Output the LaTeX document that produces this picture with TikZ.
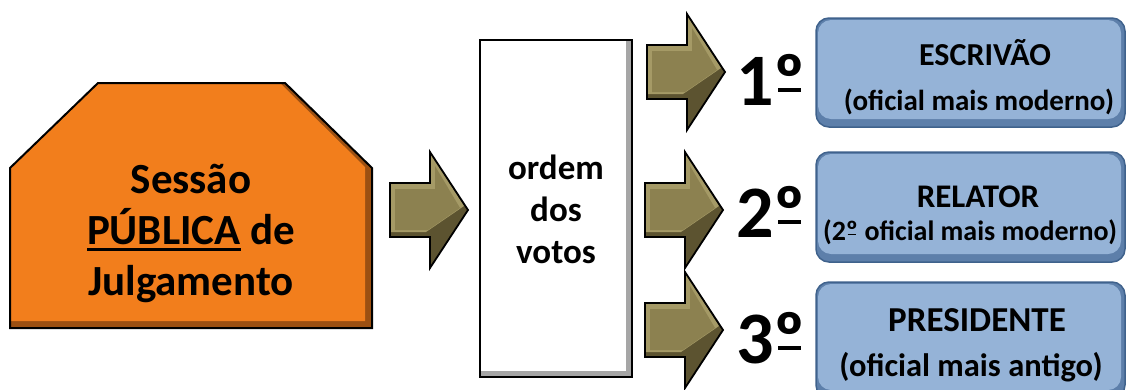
\documentclass[tikz,border=0pt]{standalone}
\usepackage{fontspec}
\setmainfont{Carlito}
\definecolor{orangemain}{HTML}{F27E1C}
\definecolor{orangedark}{HTML}{9C5012}
\definecolor{olivemain}{HTML}{8C8150}
\definecolor{olivelight}{HTML}{A59A66}
\definecolor{olivedark}{HTML}{5C5330}
\definecolor{bluemain}{HTML}{95B3D7}
\definecolor{bluedark}{HTML}{5D7FAA}
\definecolor{blueedge}{HTML}{3F628C}
\newcommand\myul[1]{\setbox0\hbox{#1}\rlap{\rule[-7pt]{\wd0}{3pt}}\box0\relax}
\newcommand\ordu{\setbox0\hbox{º}\rlap{\hbox to \wd0{\hss\rule[0.17em]{0.72\wd0}{0.06em}\hss}}\box0\relax}
\tikzset{
  fs/.style={font=\bfseries\fontsize{#1}{#1}\selectfont},
  blockarrow/.pic={
    \fill[olivedark] (-78,-27) -- (-38,-27) -- (-38,-58) -- (0,0) -- (-38,58) -- (-38,27) -- (-78,27) -- cycle;
    \fill[olivelight] (-78,-27) -- (-38,-27) -- (-38,-58) -- (-4,-4) -- (-42,22) -- (-78,22) -- cycle;
    \fill[olivemain] (-73,-21) -- (-33,-21) -- (-33,-44) -- (-8,-2) -- (-40,20) -- (-73,20) -- cycle;
    \draw[line width=1.8pt, line join=miter] (-78,-27) -- (-38,-27) -- (-38,-58) -- (0,0) -- (-38,58) -- (-38,27) -- (-78,27) -- cycle;
  },
  bluebox/.style={rounded corners=13pt},
}
\begin{document}
\begin{tikzpicture}[x=1pt,y=-1pt]
\useasboundingbox (0,0) rectangle (1127,389);
\fill[white] (0,0) rectangle (1127,389);
% orange pentagon
\fill[orangedark] (10,168) -- (98,83) -- (285,83) -- (372,168) -- (372,328) -- (10,328) -- cycle;
\fill[orangemain] (10,168) -- (98,83) -- (280,83) -- (365,167) -- (365,321) -- (10,321) -- cycle;
\draw[line width=2pt, line join=miter] (10,168) -- (98,83) -- (285,83) -- (372,168) -- (372,328) -- (10,328) -- cycle;
\node[fs=43, align=center, inner sep=0pt] (sessao) at (191,233) {Sessão\\[8pt]\myul{PÚBLICA} de\\[8pt]Julgamento};
% arrow into box
\pic at (468,210) {blockarrow};
% white box
\fill[gray!70] (480,40) rectangle (632,377);
\fill[white] (480,40) rectangle (626,371);
\draw[line width=2pt] (480,40) rectangle (632,377);
\node[fs=35, align=center, inner sep=0pt] (ordem) at (556,209) {ordem\\[7pt]dos\\[7pt]votos};
% arrows out
\pic at (725,72) {blockarrow};
\pic at (723,210) {blockarrow};
\pic at (723,330) {blockarrow};
% numbers
\node[fs=74, anchor=base] (n1) at (771,105) {1\ordu};
\node[fs=74, anchor=base] (n2) at (771,237) {2\ordu};
\node[fs=74, anchor=base] (n3) at (771,363) {3\ordu};
% blue boxes
\foreach \t/\b in {18/127,152/262,282/398}{
  \fill[bluedark, bluebox] (816,\t) rectangle (1125,\b);
  \fill[bluemain, bluebox] (818,\t+2) rectangle (1121,\b-8);
  \draw[blueedge, line width=1.5pt, bluebox] (816,\t) rectangle (1125,\b);
}
\node[fs=32, anchor=base] (t1) at (985,65) {ESCRIVÃO};
\node[fs=29, anchor=base] (s1) at (979,110) {(oficial mais moderno)};
\node[fs=33, anchor=base] (t2) at (978,207) {RELATOR};
\node[fs=28, anchor=base] (s2) at (970,240) {(2\ordu{} oficial mais moderno)};
\node[fs=35, anchor=base] (t3) at (977,331) {PRESIDENTE};
\node[fs=32.5, anchor=base] (s3) at (971,376) {(oficial mais antigo)};
\end{tikzpicture}
\end{document}
